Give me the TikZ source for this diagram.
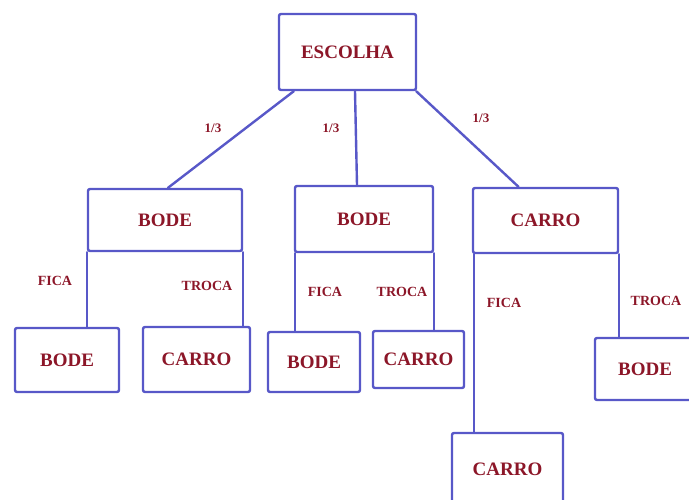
\documentclass[tikz,border=0pt]{standalone}
\usepackage{fontspec}
\setmainfont{Liberation Serif}
\usetikzlibrary{calc}
\definecolor{lineblue}{RGB}{88,88,200}
\definecolor{txtred}{RGB}{140,22,40}
\begin{document}
\begin{tikzpicture}[x=1pt,y=-1pt,
  box/.style={draw=lineblue,line width=2.4pt,rounded corners=2pt,fill=white,
    text=txtred,font=\fontsize{19}{21}\selectfont\bfseries,inner sep=0pt},
  lab/.style={text=txtred,font=\fontsize{14}{16}\selectfont\bfseries,inner sep=0pt},
  con/.style={draw=lineblue,line width=2.4pt,line cap=round}]
\useasboundingbox (0,0) rectangle (689,499);
\clip (0,0) rectangle (689,499);
% connectors first so boxes sit on top
\node[box,minimum width=137pt,minimum height=76pt] (esc) at (347.5,52) {ESCOLHA};
\node[box,minimum width=154pt,minimum height=62pt] (b1) at (165,220) {BODE};
\node[box,minimum width=138pt,minimum height=66pt] (b2) at (364,219) {BODE};
\node[box,minimum width=145pt,minimum height=65pt] (c) at (545.5,220.5) {CARRO};
\node[box,minimum width=104pt,minimum height=64pt] (l1) at (67,360) {BODE};
\node[box,minimum width=107pt,minimum height=65pt] (l2) at (196.5,359.5) {CARRO};
\node[box,minimum width=92pt,minimum height=60pt] (l3) at (314,362) {BODE};
\node[box,minimum width=91pt,minimum height=57pt] (l4) at (418.5,359.5) {CARRO};
\node[box,minimum width=100pt,minimum height=62pt] (l5) at (645,369) {BODE};
\node[box,minimum width=111pt,minimum height=72pt] (l6) at (507.5,469) {CARRO};
% connectors
\draw[con] ([xshift=16pt]esc.south west) -- ([xshift=3pt]b1.north);
\draw[con] ([xshift=7.5pt]esc.south) -- ([xshift=-7pt]b2.north);
\draw[con] ([xshift=-1pt]esc.south east) -- ([xshift=-27pt]c.north);
\draw[con] (b1.south west) -- (b1.south west |- l1.north);
\draw[con] (b1.south east) -- (b1.south east |- l2.north);
\draw[con] ([xshift=1pt]b2.south west) -- ([xshift=1pt]b2.south west |- l3.north);
\draw[con] (b2.south east) -- (b2.south east |- l4.north);
\draw[con] ([xshift=2pt]c.south west) -- ([xshift=2pt]c.south west |- l6.north);
\draw[con] (c.south east) -- (c.south east |- l5.north);
% labels
\node[lab,font=\fontsize{13}{15}\selectfont\bfseries] (p1) at (213,128) {1/3};
\node[lab,font=\fontsize{13}{15}\selectfont\bfseries] (p2) at (331,128) {1/3};
\node[lab,font=\fontsize{13}{15}\selectfont\bfseries] (p3) at (481,118) {1/3};
\node[lab] (f1) at (55,281) {FICA};
\node[lab] (t1) at (207,286) {TROCA};
\node[lab] (f2) at (325,292) {FICA};
\node[lab] (t2) at (402,292) {TROCA};
\node[lab] (f3) at (504,303) {FICA};
\node[lab] (t3) at (656,301) {TROCA};
\end{tikzpicture}
\end{document}
